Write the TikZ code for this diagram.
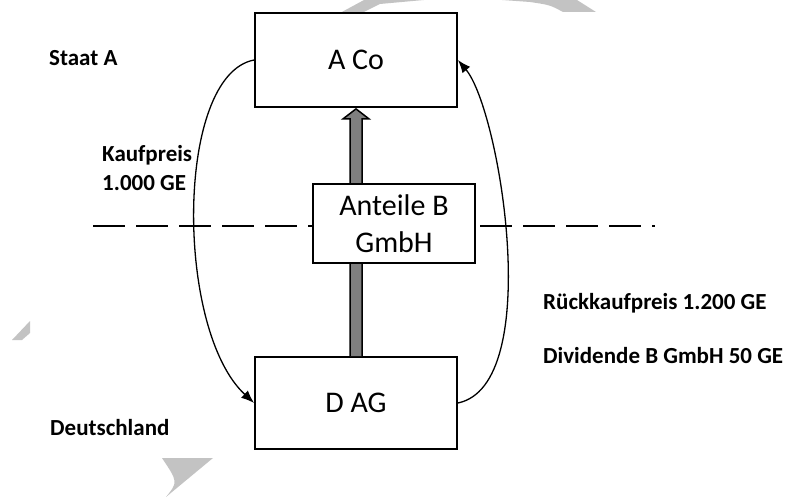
\documentclass[tikz,border=0pt]{standalone}
\usepackage{fontspec}
\setmainfont{Carlito}
\usetikzlibrary{arrows.meta,calc}
\definecolor{arrowgray}{HTML}{7F7F7F}
\definecolor{wmgray}{HTML}{C3C3C3}
\tikzset{
  box/.style={draw, line width=1.8pt, fill=white, inner sep=0pt, align=center,
    font=\fontsize{30}{37}\selectfont},
  lbl/.style={inner sep=0pt, anchor=base west, font=\fontsize{23}{28}\selectfont\bfseries},
  flow/.style={line width=1.3pt, -{Latex[length=13pt,width=10pt]}},
  border/.style={line width=2.6pt, dash pattern=on 32pt off 11pt},
  wm/.style={fill=wmgray, draw=none}
}
\begin{document}
\begin{tikzpicture}[x=1pt,y=-1pt]
\useasboundingbox (0,0) rectangle (792,497);
% watermark fragments
\fill[wm] (340,13) -- (364,0) -- (424,0) -- (380,4) -- (362,13) -- cycle;
\fill[wm] (502,0) -- (577,0) -- (596,12) -- (563,12) .. controls (550,5) .. (530,2) -- cycle;
\fill[wm] (12,340) -- (30,321) -- (30,333) -- (22,340) -- cycle;
\fill[wm] (162,458) -- (213,458) -- (166,497) .. controls (178,482) .. (162,458) -- cycle;
% border line
\coordinate (dl) at (93,226);
\coordinate (dr) at (655,226);
\draw[border] (dl) -- (dr);
% nodes
\node[box, minimum width=202pt, minimum height=94pt] (aco) at (356,60) {A Co};
\node[box, minimum width=202pt, minimum height=92pt] (dag) at (356,403) {D AG};
% grey transfer arrow
\draw[line width=1.5pt, fill=arrowgray, line join=miter]
  ($(dag.north)+(-6,0)$) -- ($(aco.south)+(-6,11)$) -- ($(aco.south)+(-13,11)$)
  -- ($(aco.south)+(0,1)$) -- ($(aco.south)+(13,11)$) -- ($(aco.south)+(6,11)$)
  -- ($(dag.north)+(6,0)$);
\node[box, minimum width=162pt, minimum height=79pt] (ant) at (394,223.5) {Anteile B\\GmbH};
% flows
\draw[flow] (aco.west) .. controls (175,75) and (175,330) .. (dag.west);
\draw[flow] (dag.east) .. controls (545,385) and (500,110) .. (aco.east);
% labels
\node[lbl] (staat) at (49,66) {Staat A};
\node[lbl] (kauf1) at (102,162) {Kaufpreis};
\node[lbl] (kauf2) at (102,190) {1.000 GE};
\node[lbl] (rueck) at (543,309) {Rückkaufpreis 1.200 GE};
\node[lbl] (divi) at (543,363) {Dividende B GmbH 50 GE};
\node[lbl] (de) at (50,435) {Deutschland};
\end{tikzpicture}
\end{document}
